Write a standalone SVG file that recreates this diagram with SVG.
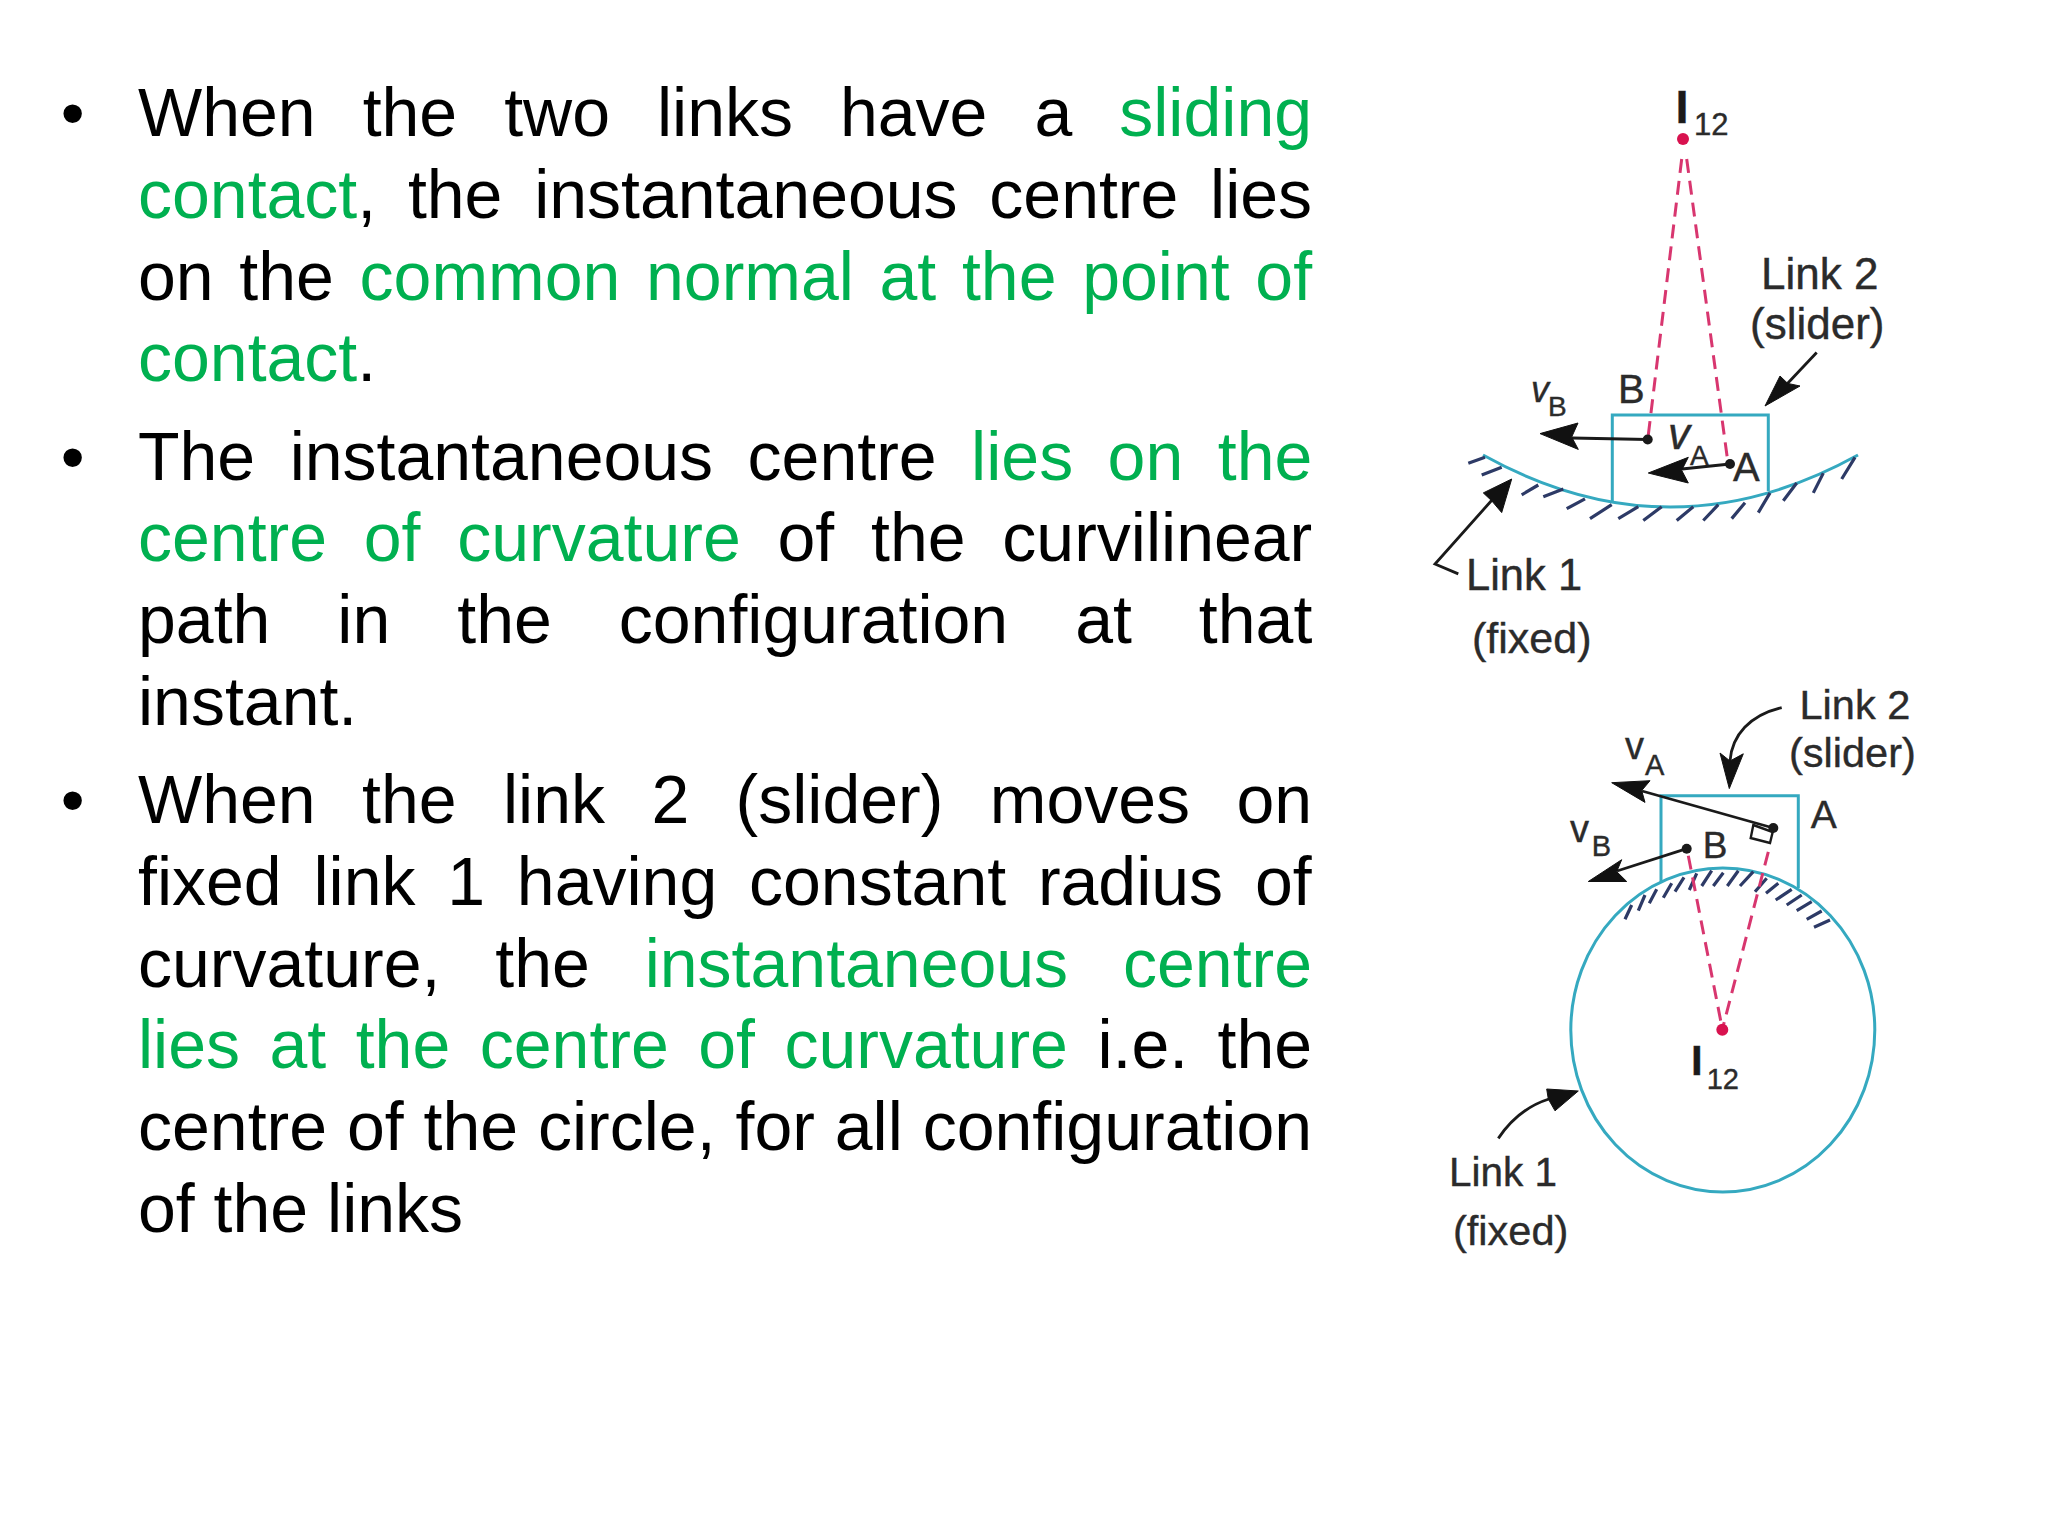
<svg xmlns="http://www.w3.org/2000/svg" width="2048" height="1536" viewBox="0 0 2048 1536">
<style>
.t{font-family:"Liberation Sans",Arial,sans-serif;font-size:68px;fill:#000}
.g{fill:#00b050}
.l{font-family:"Liberation Sans",Arial,sans-serif;fill:#2b2b2b;stroke:#2b2b2b;stroke-width:.4}
.b{font-weight:bold;fill:#1a1a1a}
.i{font-style:italic}
.blue{fill:none;stroke:#35a9c0;stroke-width:3}
.hatch{fill:none;stroke:#2d3a66;stroke-width:3.2}
.dash{fill:none;stroke:#d8366f;stroke-width:3;stroke-dasharray:14 8}
.ln{fill:none;stroke:#1a1a1a;stroke-width:2.8}
.head{fill:#111;stroke:#111;stroke-width:1}
.red{fill:#d8124f}
.dot{fill:#1a1a1a}
</style>
<rect width="2048" height="1536" fill="#fff"/>
<g id="text-block">
<g id="bullet-1">
<text class="t" x="60.7" y="136">•</text>
<text class="t" x="138" y="136" style="word-spacing:28.1px">When the two links have a <tspan class="g">sliding</tspan></text>
<text class="t" x="138" y="217.8" style="word-spacing:12.85px"><tspan class="g">contact</tspan>, the instantaneous centre lies</text>
<text class="t" x="138" y="299.6" style="word-spacing:6.8px">on the <tspan class="g">common normal at the point of</tspan></text>
<text class="t" x="138" y="381.4"><tspan class="g">contact</tspan>.</text>
</g>
<g id="bullet-2">
<text class="t" x="60.7" y="479.6">•</text>
<text class="t" x="138" y="479.6" style="word-spacing:15.6px">The instantaneous centre <tspan class="g">lies on the</tspan></text>
<text class="t" x="138" y="561.4" style="word-spacing:17.9px"><tspan class="g">centre of curvature</tspan> of the curvilinear</text>
<text class="t" x="138" y="643.2" style="word-spacing:48.1px">path in the configuration at that</text>
<text class="t" x="138" y="725">instant.</text>
</g>
<g id="bullet-3">
<text class="t" x="60.7" y="823">•</text>
<text class="t" x="138" y="823" style="word-spacing:27.5px">When the link 2 (slider) moves on</text>
<text class="t" x="138" y="904.8" style="word-spacing:12.9px">fixed link 1 having constant radius of</text>
<text class="t" x="138" y="986.6" style="word-spacing:36px">curvature, the <tspan class="g">instantaneous centre</tspan></text>
<text class="t" x="138" y="1068.4" style="word-spacing:10.6px"><tspan class="g">lies at the centre of curvature</tspan> i.e. the</text>
<text class="t" x="138" y="1150.2" style="word-spacing:1.03px">centre of the circle, for all configuration</text>
<text class="t" x="138" y="1232">of the links</text>
</g>
</g>
<g id="figure-top">
<g id="top-link1">
<path class="blue" d="M1483,455 Q1670,559 1858,455"/>
<path class="hatch" d="M1468.3,463.2 1485,457.3M1481.7,475 1501.7,467.2M1521.7,494.8 1538.3,485M1543.3,496.8 1563.3,488.9M1566.7,508.7 1585,498.8M1590,518.6 1611.7,504.7M1618.3,518.6 1638.3,506.7M1643.3,520.5 1661.7,506.7M1676.7,520.5 1693.3,506.7M1703.3,520.5 1718.3,504.7M1731.7,518.6 1745,502.7M1758.3,512.6 1770,492.9M1783.3,500.8 1796.7,483M1813.3,492.9 1823.3,473.1M1841.7,479 1855,457.3"/>
</g>
<g id="top-link2"><path class="blue" d="M1612.3,502 V415 H1768.3 V491"/></g>
<g id="top-connectors">
<path class="dash" d="M1681.7,159 1648,437.5M1686.7,159 1728,463"/>
<path class="ln" d="M1647.7,439.5 1572,438"/>
<path class="head" d="M1540,433.6 1578,423 1571.7,437 1578.3,449.4Z"/>
<path class="ln" d="M1730,464 1682,469"/>
<path class="head" d="M1648.3,473 1688.3,457.3 1681.7,470.3 1688.3,483Z"/>
<path class="ln" d="M1816.7,352.5 1787,384"/>
<path class="head" d="M1765,406 1780,376 1787.7,383.4 1800,386Z"/>
<path class="ln" d="M1458.3,573.9 1435,564 1492,500"/>
<path class="head" d="M1511.7,479 1483.3,492.9 1491.7,500.8 1501.7,512.6Z"/>
</g>
<circle class="red" cx="1683" cy="139" r="6"/>
<circle class="dot" cx="1647.7" cy="439.5" r="5"/>
<circle class="dot" cx="1730" cy="464" r="5"/>
<text class="l b" x="1675.5" y="123" font-size="47">I</text>
<text class="l" x="1694" y="135" font-size="31">12</text>
<text class="l" x="1761" y="288.5" font-size="44">Link 2</text>
<text class="l" x="1750" y="338.7" font-size="44">(slider)</text>
<text class="l" x="1618" y="403" font-size="40">B</text>
<text class="l i" x="1531" y="402" font-size="36">v</text>
<text class="l" x="1548" y="416" font-size="28">B</text>
<text class="l i" x="1668" y="449" font-size="44">v</text>
<text class="l" x="1690" y="465" font-size="28">A</text>
<text class="l" x="1733" y="481" font-size="40">A</text>
<text class="l" x="1466" y="589.7" font-size="43.5">Link 1</text>
<text class="l" x="1472" y="653" font-size="43">(fixed)</text>
</g>
<g id="figure-bottom">
<g id="bottom-link1">
<ellipse class="blue" cx="1722.8" cy="1030" rx="152" ry="162"/>
<path class="hatch" d="M1625,919.3 1631.7,905M1638.3,910.7 1645,895M1649.3,903.3 1656.7,889.3M1663.3,897.7 1671.7,883.3M1675,891.7 1684,877.3M1689.3,890 1696.7,873.3M1701.7,886 1711.7,870.7M1713.3,886 1723.3,872.7M1727.3,886 1738.3,870.7M1740,886 1753.3,871.7M1755,891.7 1766.7,878.3M1766,893.3 1778.3,883.3M1775.7,900 1791.7,889.3M1786.7,905 1801.7,895M1796.7,910.7 1811.7,901.7M1806.7,919.3 1821.7,911M1814,927.3 1830,920"/>
</g>
<g id="bottom-link2"><path class="blue" d="M1661,883 V795.7 H1798.3 V888"/></g>
<g id="bottom-connectors">
<path class="dash" d="M1688.3,855.8 1721.7,1025.8M1768.3,851.8 1723.3,1025.8"/>
<path class="ln" d="M1773.3,828 1642,791"/>
<path class="head" d="M1611.7,782.7 1650,780.7 1641.7,790.6 1645,802.4Z"/>
<path class="ln" d="M1686.7,848.7 1617,871"/>
<path class="head" d="M1588.3,881.5 1621.7,859.7 1616.7,871.6 1626.7,881.5Z"/>
<path class="ln" d="M1781.7,707.6 C1750,715 1732,735 1730,761"/>
<path class="head" d="M1729.3,788.6 1720,753 1730,761 1743.3,753.8Z"/>
<path class="ln" d="M1498.3,1138.4 C1512,1118 1530,1105 1549,1099"/>
<path class="head" d="M1578.3,1091 1546.7,1089 1548.3,1099 1555,1110.8Z"/>
<path fill="#fff" stroke="#1a1a1a" stroke-width="2.4" d="M1753.3,825 1772.7,832 1770,843 1750.7,838Z"/>
</g>
<circle class="red" cx="1722.3" cy="1029.7" r="6"/>
<circle class="dot" cx="1686.7" cy="848.7" r="5"/>
<circle class="dot" cx="1773.3" cy="828" r="5"/>
<text class="l" x="1799.5" y="719.4" font-size="41.5">Link 2</text>
<text class="l" x="1789" y="767" font-size="41.5">(slider)</text>
<text class="l" x="1625" y="759" font-size="38">v</text>
<text class="l" x="1645" y="774.8" font-size="29">A</text>
<text class="l" x="1810.7" y="828" font-size="39">A</text>
<text class="l" x="1702.7" y="857.8" font-size="37">B</text>
<text class="l" x="1570" y="842" font-size="38">v</text>
<text class="l" x="1591.7" y="855.8" font-size="29">B</text>
<text class="l b" x="1691" y="1075" font-size="42">I</text>
<text class="l" x="1706.7" y="1089" font-size="29">12</text>
<text class="l" x="1449" y="1185.9" font-size="40.5">Link 1</text>
<text class="l" x="1453" y="1245" font-size="41.5">(fixed)</text>
</g>
</svg>
